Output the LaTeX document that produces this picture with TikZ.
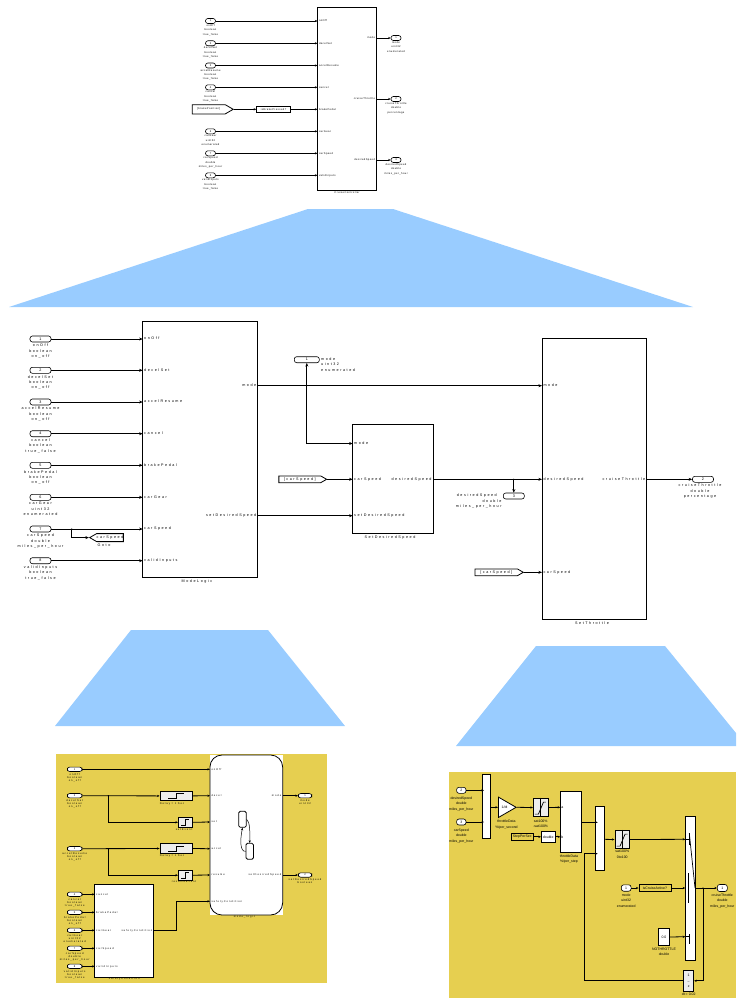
\documentclass[tikz,border=0pt]{standalone}
\usepackage{fontspec}
\setmainfont{Liberation Sans}
\newfontfamily\widefont[LetterSpace=42]{Liberation Sans}
\newfontfamily\loosefont[LetterSpace=16]{Liberation Sans}
\newfontfamily\yellowfont[LetterSpace=35]{Liberation Sans}
\usetikzlibrary{arrows.meta,shapes.symbols,shapes.geometric}
\definecolor{zoomblue}{HTML}{99CCFF}
\definecolor{panelyellow}{HTML}{E6CF50}
\tikzset{
  wire/.style={line width=0.8pt,->},
  tinytips/.style={>={Stealth[length=2.6pt,width=2.2pt]}},
  block/.style={draw,line width=0.8pt,fill=white,inner sep=0pt},
  tagblock/.style={draw,line width=0.8pt,fill=panelyellow,inner sep=0pt},
  capsule/.style={draw,line width=0.6pt,fill=white,rounded corners=2.4pt,inner sep=0pt},
  % text of the three panels
  midtext/.style={inner sep=0pt,align=center,font=\widefont\fontsize{3.7}{5.4}\selectfont},
  toptext/.style={inner sep=0pt,align=center,font=\loosefont\fontsize{2.6}{4.35}\selectfont},
  lefttext/.style={inner sep=0pt,align=center,font=\yellowfont\fontsize{2.6}{3.1}\selectfont},
  righttext/.style={inner sep=0pt,align=center,font=\fontsize{3.5}{5.6}\selectfont},
  porth/.style={text height=2.6pt,text depth=0.8pt,inner ysep=0pt,inner xsep=1.3pt},
  dotjoin/.style={circle,fill=black,inner sep=0pt,minimum size=1.4pt},
  fromtag/.style={draw,line width=0.8pt,fill=white,inner sep=0pt,signal,signal to=east,signal pointer angle=60},
  gototag/.style={draw,line width=0.8pt,fill=white,inner sep=0pt,signal,signal to=west,signal pointer angle=60}
}

\begin{document}
\begin{tikzpicture}[x=1pt,y=-1pt,>={Stealth[length=3.6pt,width=3pt]}]
  \useasboundingbox (0,0) rectangle (736,998);
  \clip (0,0) rectangle (736,998);

  % zoom wedges and yellow panels
  \fill[zoomblue] (308,209) -- (393,209) -- (693,307) -- (9,307) -- cycle;
  \fill[zoomblue] (131,630) -- (268,630) -- (345,726) -- (55,726) -- cycle;
  \fill[zoomblue] (536,646) -- (665,646) -- (746.6,746) -- (456,746) -- cycle;
  \fill[panelyellow] (56,754) rectangle (327,983);
  \fill[panelyellow] (449,772) rectangle (736,998);

  % top panel
  \begin{scope}[tinytips]
    \node[block,minimum width=59pt,minimum height=183pt] (cruisectl) at (347,98.5) {};
    \node[toptext] (cruisename) at (347,192.3) {CruiseController};
    \foreach \y/\n/\lab/\pname/\tname in {
      21/1/{onOff\\boolean\\true\_false}/onOff/a,
      43.3/2/{decelSet\\boolean\\true\_false}/decelSet/b,
      65.5/3/{accelResume\\boolean\\true\_false}/accelResume/c,
      87.3/4/{cancel\\boolean\\true\_false}/cancel/d,
      131.3/6/{carGear\\uint32\\enumerated}/carGear/f,
      153.3/7/{carSpeed\\double\\miles\_per\_hour}/carSpeed/g,
      175.3/8/{validInputs\\boolean\\true\_false}/validInputs/h} {
      \node[capsule,minimum width=10pt,minimum height=5pt,toptext] (topin\tname) at (210.5,\y) {\n};
      \node[toptext,anchor=north] (toplab\tname) at (210.5,\y+3.5) {\lab};
      \node[toptext,porth,anchor=west] (topport\tname) at (317.5,\y) {\pname};
      \draw[wire] (topin\tname.east) -- (topport\tname.west);
    }
    \node[fromtag,toptext,minimum width=41pt,minimum height=9.3pt] (brakefrom) at (208.7,109.3) {[brakePosition]};
    \node[block,toptext,minimum width=33.6pt,minimum height=6pt] (isbrake) at (273.5,109.3) {isBrakePressed?};
    \node[toptext,porth,anchor=west] (topporte) at (317.5,109.3) {brakePedal};
    \draw[wire] (brakefrom.east) -- (isbrake.west);
    \draw[wire] (isbrake.east) -- (topporte.west);
    \foreach \y/\n/\lab/\pname/\tname in {
      38/1/{mode\\uint32\\enumerated}/mode/a,
      99/2/{cruiseThrottle\\double\\percentage}/cruiseThrottle/b,
      160/3/{desiredSpeed\\double\\miles\_per\_hour}/desiredSpeed/c} {
      \node[toptext,porth,anchor=east] (topout\tname) at (376.5,\y) {\pname};
      \node[capsule,minimum width=10pt,minimum height=5pt,toptext] (topcap\tname) at (396,\y) {\n};
      \node[toptext,anchor=north] (topcaplab\tname) at (396,\y+3.5) {\lab};
      \draw[wire] (topout\tname.east) -- (topcap\tname.west);
    }
  \end{scope}

  % middle panel
  \node[block,minimum width=115pt,minimum height=256.7pt] (modelogic) at (200.2,449.3) {};
  \node[midtext] (modelogicname) at (197,582) {ModeLogic};
  \foreach \y/\n/\lab/\pname/\tname in {
    339/1/{onOff\\boolean\\on\_off}/onOff/a,
    370.3/2/{decelSet\\boolean\\on\_off}/decelSet/b,
    402/3/{accelResume\\boolean\\on\_off}/accelResume/c,
    433.7/4/{cancel\\boolean\\true\_false}/cancel/d,
    465.3/5/{brakePedal\\boolean\\on\_off}/brakePedal/e,
    497.3/6/{carGear\\uint32\\enumerated}/carGear/f,
    529/7/{carSpeed\\double\\miles\_per\_hour}/carSpeed/g,
    560.7/8/{validInputs\\boolean\\true\_false}/validInputs/h} {
    \node[capsule,midtext,minimum width=21pt,minimum height=6pt] (midin\tname) at (40.5,\y) {\n};
    \node[midtext,anchor=north] (midlab\tname) at (40.5,\y+4.9) {\lab};
    \node[midtext,porth,anchor=west] (midport\tname) at (142.7,\y) {\pname};
    \draw[wire] (midin\tname.east) -- (midport\tname.west);
  }
  \node[gototag,midtext,minimum width=33.5pt,minimum height=8pt] (speedgoto) at (110,537.6) {carSpeed};
  \node[midtext] (gotoname) at (104,545.4) {Goto};
  \coordinate (gotojoin) at (71.7,529);
  \node[dotjoin] (gotodot) at (gotojoin) {};
  \draw[wire] (gotojoin) |- (speedgoto.west);

  \node[midtext,porth,anchor=east] (logicmode) at (257.7,385.7) {mode};
  \node[midtext,porth,anchor=east] (logicset) at (257.7,515.7) {setDesiredSpeed};

  \node[block,minimum width=80.3pt,minimum height=109.4pt] (setdesired) at (392.9,479) {};
  \node[midtext] (setdesiredname) at (390,537.4) {SetDesiredSpeed};
  \node[midtext,porth,anchor=west] (desmode) at (352.7,443.5) {mode};
  \node[midtext,porth,anchor=west] (desspeed) at (352.7,479.3) {carSpeed};
  \node[midtext,porth,anchor=west] (desset) at (352.7,515.7) {setDesiredSpeed};
  \node[midtext,porth,anchor=east] (desout) at (433,479.3) {desiredSpeed};

  \node[block,minimum width=104.7pt,minimum height=281pt] (setthrottle) at (594.3,478.8) {};
  \node[midtext] (setthrottlename) at (592,623.4) {SetThrottle};
  \node[midtext,porth,anchor=west] (thrmode) at (542,385.7) {mode};
  \node[midtext,porth,anchor=west] (thrdes) at (542,479.3) {desiredSpeed};
  \node[midtext,porth,anchor=west] (thrspeed) at (542,572.3) {carSpeed};
  \node[midtext,porth,anchor=east] (throut) at (646.7,479.3) {cruiseThrottle};

  \node[capsule,midtext,minimum width=25pt,minimum height=6pt] (modecap) at (306.8,359.7) {1};
  \node[midtext,anchor=north west,align=left] (modecaplab) at (321,357.4) {mode\\uint32\\enumerated};
  \node[capsule,midtext,minimum width=21pt,minimum height=6pt] (descap) at (513.8,496) {3};
  \node[midtext,anchor=east] (descaplaba) at (497,495.7) {desiredSpeed};
  \node[midtext,anchor=east] (descaplabb) at (501.7,501.4) {double};
  \node[midtext,anchor=east] (descaplabc) at (501.7,506.8) {miles\_per\_hour};
  \node[capsule,midtext,minimum width=21pt,minimum height=6pt] (thrcap) at (703,479.3) {2};
  \node[midtext,anchor=north] (thrcaplab) at (700,484) {cruiseThrottle\\double\\percentage};

  \node[fromtag,midtext,minimum width=47.7pt,minimum height=6.8pt] (fromdes) at (299.8,479.3) {[carSpeed]};
  \node[fromtag,midtext,minimum width=48.3pt,minimum height=6.8pt] (fromthr) at (496.2,572.3) {[carSpeed]};

  \coordinate (modejoin) at (306.8,385.7);
  \coordinate (speedjoin) at (513.8,479.3);
  \node[dotjoin] (modedot) at (modejoin) {};
  \node[dotjoin] (speeddot) at (speedjoin) {};
  \draw[wire] (logicmode.east) -- (thrmode.west);
  \draw[wire] (modejoin) -- (modecap.south);
  \draw[wire] (modejoin) |- (desmode.west);
  \draw[wire] (logicset.east) -- (desset.west);
  \draw[wire] (fromdes.east) -- (desspeed.west);
  \draw[wire] (desout.east) -- (thrdes.west);
  \draw[wire] (speedjoin) -- (descap.north);
  \draw[wire] (fromthr.east) -- (thrspeed.west);
  \draw[wire] (throut.east) -- (thrcap.west);

  % left yellow panel
  \begin{scope}[tinytips]
    \fill[white] (210,755) rectangle (282.7,915);
    \node[block,rounded corners=12pt,minimum width=72.7pt,minimum height=160pt] (modechart) at (246.3,835) {};
    \node[lefttext] (modechartname) at (244.5,917.3) {mode\_logic};
    \node[block,rounded corners=1.5pt,minimum width=7.6pt,minimum height=16pt] (chartstatea) at (242.5,819.3) {};
    \node[block,rounded corners=1.5pt,minimum width=7.4pt,minimum height=16pt] (chartstateb) at (249.7,851.3) {};
    \draw[line width=0.5pt,->] (chartstatea.east) .. controls (250,822) and (250,832) .. (chartstateb.north);
    \draw[line width=0.5pt,->] (chartstateb.west) .. controls (240,852) and (240,840) .. (chartstatea.south);
    \foreach \y/\lab/\tname in {769.3/onOff/a,795.7/decel/b,822/set/c,848.7/accel/d,875/resume/e,901.3/safetyCondition/f}
      \node[lefttext,porth,anchor=west] (chartin\tname) at (210,\y) {\lab};
    \node[lefttext,porth,anchor=east] (chartouta) at (282.7,795.7) {mode};
    \node[lefttext,porth,anchor=east] (chartoutb) at (282.7,875) {setDesiredSpeed};
    \node[capsule,lefttext,minimum width=13.4pt,minimum height=4.4pt] (lcapa) at (305,795.7) {1};
    \node[capsule,lefttext,minimum width=13.4pt,minimum height=4.4pt] (lcapb) at (305,875) {2};
    \node[lefttext,anchor=north] (lcapalab) at (305,799) {mode\\uint32};
    \node[lefttext,anchor=north] (lcapblab) at (305,878.3) {setDesiredSpeed\\boolean};
    \draw[wire] (chartouta.east) -- (lcapa.west);
    \draw[wire] (chartoutb.east) -- (lcapb.west);

    \foreach \y/\n/\lab/\tname in {
      769.3/1/{onOff\\boolean\\on\_off}/a,
      795.7/2/{decelSet\\boolean\\on\_off}/b,
      848.7/3/{accelResume\\boolean\\on\_off}/d} {
      \node[capsule,lefttext,minimum width=14.7pt,minimum height=4.4pt] (lin\tname) at (74.7,\y) {\n};
      \node[lefttext,anchor=north] (linlab\tname) at (74.7,\y+3.7) {\lab};
    }
    \draw[wire] (lina.east) -- (chartina.west);
    \node[block,fill=white!93!black,minimum width=32pt,minimum height=9.7pt] (delaya) at (176,795.9) {};
    \node[block,fill=white!93!black,minimum width=13.7pt,minimum height=10pt] (eventa) at (185.2,822.3) {};
    \node[block,fill=white!93!black,minimum width=32pt,minimum height=9.7pt] (delayb) at (176,848.5) {};
    \node[block,fill=white!93!black,minimum width=13.7pt,minimum height=10pt] (eventb) at (185.2,875.2) {};
    \foreach \bname in {delaya,delayb}
      \draw[line width=0.6pt] ([xshift=-8pt,yshift=-2.5pt]\bname.center) -- ++(8,0) -- ++(0,-5) -- ++(8,0);
    \foreach \bname in {eventa,eventb}
      \draw[line width=0.6pt] ([xshift=-4pt,yshift=-3pt]\bname.center) -- ++(4,0) -- ++(0,-6) -- ++(4,0);
    \node[lefttext] (delayaname) at (172,803.4) {Delay = 1 Sec};
    \node[lefttext] (eventaname) at (184,829.3) {setEvent};
    \node[lefttext] (delaybname) at (172,855.6) {Delay = 1 Sec};
    \node[lefttext] (eventbname) at (184,882) {resumeEvent};
    \coordinate (decjoin) at (108.3,795.7);
    \coordinate (accjoin) at (108.3,848.7);
    \node[dotjoin] (decdot) at (decjoin) {};
    \node[dotjoin] (accdot) at (accjoin) {};
    \draw[wire] (linb.east) -- (delaya.west);
    \draw[wire] (lind.east) -- (delayb.west);
    \draw[wire] (decjoin) |- (eventa.west);
    \draw[wire] (accjoin) |- (eventb.west);
    \draw[wire] (delaya.east) -- (chartinb.west);
    \draw[wire] (eventa.east) -- (chartinc.west);
    \draw[wire] (delayb.east) -- (chartind.west);
    \draw[wire] (eventb.east) -- (chartine.west);

    \node[block,minimum width=59pt,minimum height=92.7pt] (safety) at (124.2,930.7) {};
    \node[lefttext] (safetyname) at (124.2,979.2) {safetyCondition};
    \foreach \y/\n/\lab/\pname/\tname in {
      894.3/4/{cancel\\boolean\\true\_false}/cancel/a,
      912.3/5/{brakePedal\\boolean\\on\_off}/brakePedal/b,
      930.3/6/{carGear\\uint32\\enumerated}/carGear/c,
      948.3/7/{carSpeed\\double\\miles\_per\_hour}/carSpeed/d,
      966.3/8/{validInputs\\boolean\\true\_false}/validInputs/e} {
      \node[capsule,lefttext,minimum width=14.7pt,minimum height=4.4pt] (sin\tname) at (74.7,\y) {\n};
      \node[lefttext,anchor=north] (sinlab\tname) at (74.7,\y+3.7) {\lab};
      \node[lefttext,porth,anchor=west] (sport\tname) at (94.7,\y) {\pname};
      \draw[wire] (sin\tname.east) -- (sport\tname.west);
    }
    \node[lefttext,porth,anchor=east] (safetyout) at (153.7,930.3) {safetyCondition};
    \coordinate (safetybend) at (176,930.3);
    \draw[wire] (safetyout.east) -- (safetybend) |- (chartinf.west);
  \end{scope}

  % right yellow panel
  \begin{scope}[tinytips]
    \node[block,minimum width=8.3pt,minimum height=64pt] (muxa) at (486.2,806.3) {};
    \node[capsule,righttext,minimum width=9.4pt,minimum height=6pt] (rinb) at (461.3,790.3) {2};
    \node[capsule,righttext,minimum width=9.4pt,minimum height=6pt] (rinc) at (461.3,822) {3};
    \node[righttext,anchor=north] (rinblab) at (461.3,796.6) {desiredSpeed\\double\\miles\_per\_hour};
    \node[righttext,anchor=north] (rinclab) at (461.3,828.4) {carSpeed\\double\\miles\_per\_hour};
    \coordinate (muxaina) at (484,790.3);
    \coordinate (muxainb) at (484,822);
    \draw[wire] (rinb.east) -- (muxaina);
    \draw[wire] (rinc.east) -- (muxainb);

    \node[block,righttext,isosceles triangle,isosceles triangle stretches,minimum width=20.4pt,minimum height=17.7pt,anchor=west] (gainblock) at (498,807.3) {1/dt};
    \node[righttext,anchor=north] (gainname) at (506.5,820) {throttleData\\\%/per\_second};
    \node[block,fill=white!93!black,minimum width=14.7pt,minimum height=18.4pt] (sata) at (540.7,807.5) {};
    \draw[line width=0.5pt] (sata.north) -- (sata.south);
    \draw[line width=0.7pt] (sata.south west) ++(2,-3) -- ++(3.5,0) -- ++(5,-12) -- ++(2.5,0);
    \node[righttext,anchor=north] (sataname) at (540.7,819.6) {sat100\%\\-sat100\%};
    \node[block,minimum width=21.4pt,minimum height=60.6pt] (tablea) at (571,822) {};
    \node[righttext,anchor=north] (tableaname) at (569,854.6) {throttleData\\\%/per\_step};
    \node[tagblock,righttext,minimum width=22.3pt,minimum height=7pt] (stepconst) at (522.2,836.8) {StepPerSec};
    \node[block,righttext,minimum width=13.7pt,minimum height=10.6pt] (stepconv) at (548.2,836.8) {double};
    \node[righttext,anchor=west,inner xsep=0.8pt] (tableina) at (560.3,807.3) {a};
    \node[righttext,anchor=west,inner xsep=0.8pt] (tableinb) at (560.3,836.8) {b};
    \coordinate (muxaout) at (490.3,807.3);
    \draw[wire] (muxaout) -- (gainblock.west);
    \draw[wire] (gainblock.east) -- (sata.west);
    \draw[wire] (sata.east) -- (tableina.west);
    \draw[wire] (stepconst.east) -- (stepconv.west);
    \draw[wire] (stepconv.east) -- (tableinb.west);

    \node[block,minimum width=8.3pt,minimum height=64pt] (muxb) at (599.8,838) {};
    \coordinate (muxbina) at (597.7,822.3);
    \coordinate (muxbinb) at (597.7,853.7);
    \coordinate (tableout) at (581.7,822.3);
    \draw[wire] (tableout) -- (muxbina);
    \node[block,fill=white!93!black,minimum width=14.7pt,minimum height=18.4pt] (satb) at (622.3,839.5) {};
    \draw[line width=0.5pt] (satb.north) -- (satb.south);
    \draw[line width=0.7pt] (satb.south west) ++(2,-3) -- ++(3.5,0) -- ++(5,-12) -- ++(2.5,0);
    \node[righttext,anchor=north] (satbname) at (622.3,850) {sat100\%\\0to100};
    \coordinate (muxbout) at (604,839.3);
    \draw[wire] (muxbout) -- (satb.west);

    % switch
    \node[block,minimum width=10pt,minimum height=144.3pt] (switchbox) at (690.3,888.2) {};
    \coordinate (switchina) at (685.3,839.3);
    \coordinate (switchinb) at (685.3,888);
    \coordinate (switchinc) at (685.3,936.7);
    \coordinate (switchout) at (695.3,888);
    \draw[line width=0.7pt] (switchina) -- (689.5,839.3);
    \draw[line width=0.7pt] (689.3,833.3) -- (689.3,845);
    \draw[line width=0.7pt] (689.3,833.3) -- (695,888);
    \draw[line width=0.7pt] (688.7,873.3) -- (688.7,903.3);
    \draw[line width=0.7pt] (switchinc) -- (689.5,936.7);
    \draw[line width=0.7pt] (689.3,934) -- (689.3,943.5);
    \draw[wire] (satb.east) -- (switchina);

    \node[capsule,righttext,minimum width=9.7pt,minimum height=6.4pt] (rmode) at (626.2,888) {1};
    \node[righttext,anchor=north] (rmodelab) at (626.2,893.4) {mode\\uint32\\enumerated};
    \node[tagblock,righttext,minimum width=32pt,minimum height=7.4pt] (isactive) at (655,888) {isCruiseActive?};
    \draw[wire] (rmode.east) -- (isactive.west);
    \draw[wire] (isactive.east) -- (switchinb);
    \node[block,righttext,minimum width=11.4pt,minimum height=17.4pt] (nothrottle) at (664,937) {0.0};
    \node[righttext,anchor=north] (nothrottlelab) at (664,947.4) {NOTHROTTLE\\double};
    \draw[wire] (nothrottle.east) -- (switchinc);

    \node[capsule,righttext,minimum width=10pt,minimum height=7pt] (rout) at (722.3,888) {1};
    \node[righttext,anchor=north] (routlab) at (722.3,893.4) {cruiseThrottle\\double\\miles\_per\_hour};
    \draw[wire] (switchout) -- (rout.west);

    \node[block,fill=white!93!black,righttext,minimum width=10pt,minimum height=21pt] (unitdelay) at (688.7,980.8) {1\\--\\z};
    \node[righttext,anchor=north] (unitdelaylab) at (688.7,992.6) {dt = 0.02};
    \coordinate (outjoin) at (703,888);
    \node[dotjoin] (outdot) at (outjoin) {};
    \draw[wire] (outjoin) |- (unitdelay.east);
    \coordinate (backjoin) at (584.3,980.8);
    \draw[wire] (unitdelay.west) -- (backjoin) |- (muxbinb);
  \end{scope}
\end{tikzpicture}
\end{document}
